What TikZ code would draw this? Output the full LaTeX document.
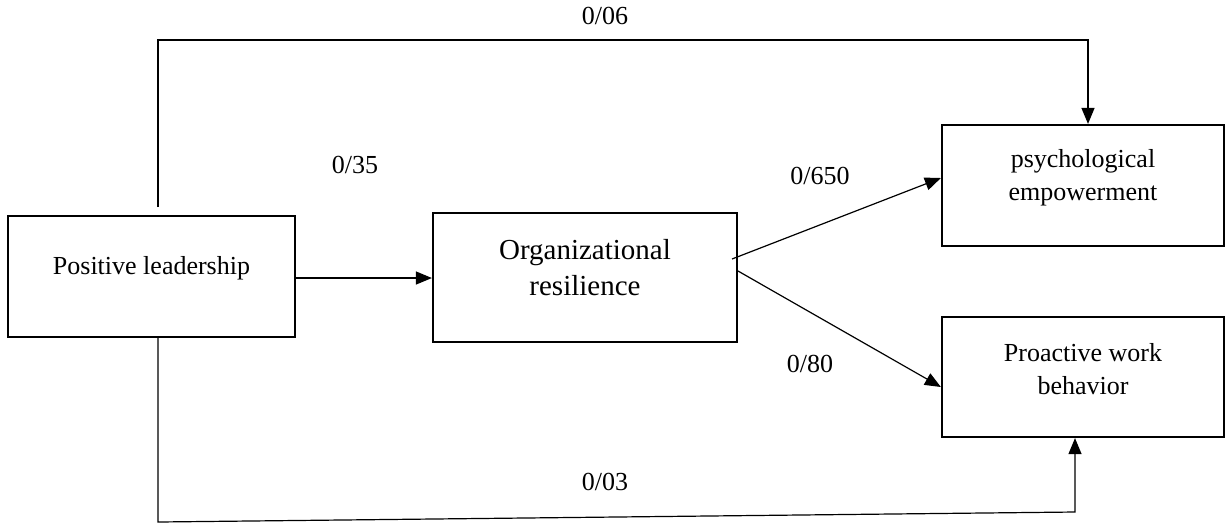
\documentclass[tikz,border=0pt]{standalone}
\usepackage{fontspec}
\setmainfont{Liberation Serif}
\usetikzlibrary{arrows.meta}
\begin{document}
\begin{tikzpicture}[x=0.5pt, y=-0.5pt,
    box/.style={draw, line width=1.1pt, inner sep=0pt},
    boxtext/.style={align=center, inner sep=0pt, font=\fontsize{13}{16.5}\selectfont},
    link/.style={line width=0.6pt, -{Triangle[length=8pt,width=6.5pt]}},
    coef/.style={font=\fontsize{13}{16}\selectfont}]
  \useasboundingbox (0,0) rectangle (1226,527);
  \node[box, minimum width=143.5pt, minimum height=60.5pt] (lead) at (151.5,276.5) {};
  \node[box, minimum width=152pt, minimum height=64.5pt] (resil) at (585,277.5) {};
  \node[box, minimum width=141pt, minimum height=60.5pt] (empow) at (1083,185.5) {};
  \node[box, minimum width=141pt, minimum height=60pt] (proact) at (1083,377) {};
  \node[boxtext] (leadtext) at ([yshift=4pt]lead.center) {Positive leadership};
  \node[boxtext, font=\fontsize{14.5}{18}\selectfont] (resiltext) at ([yshift=5pt]resil.center) {Organizational\\resilience};
  \node[boxtext] (empowtext) at ([yshift=4pt]empow.center) {psychological\\empowerment};
  \node[boxtext] (proacttext) at ([yshift=4pt]proact.center) {Proactive work\\behavior};
  % end points of the free lines
  \coordinate (topstart) at (158,207);
  \coordinate (topleft) at (158,40);
  \coordinate (topright) at (1088,40);
  \coordinate (botstart) at (158,337);
  \coordinate (botleft) at (158,522);
  \coordinate (botright) at (1075,512);
  \coordinate (fanup) at (732,259);
  \coordinate (fandown) at (738,271);
  \draw[link] (lead.east |- 0,278) -- (resil.west |- 0,278);
  \draw[link] (topstart) -- (topleft) -- (topright) -- (topright |- empow.north);
  \draw[link] (botstart) -- (botleft) -- (botright) -- (botright |- proact.south);
  \draw[link] (fanup) -- (empow.west |- 0,178);
  \draw[link] (fandown) -- (proact.west |- 0,387);
  \node[coef] (c06) at (605,16) {0/06};
  \node[coef] (c35) at (355,165) {0/35};
  \node[coef] (c650) at (820,176) {0/650};
  \node[coef] (c80) at (810,364) {0/80};
  \node[coef] (c03) at (605,482) {0/03};
\end{tikzpicture}
\end{document}
